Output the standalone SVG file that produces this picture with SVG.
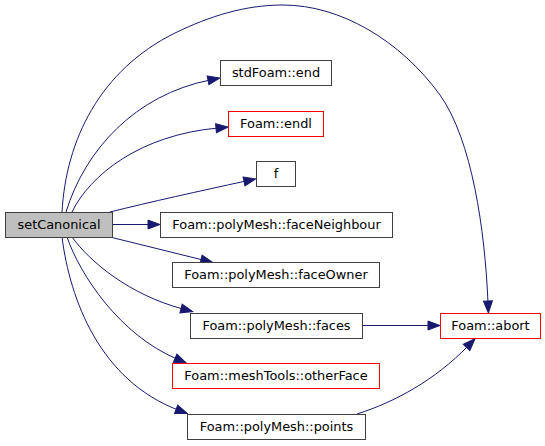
<svg xmlns="http://www.w3.org/2000/svg" width="545" height="446" viewBox="0 0 545 446">
<style>
.box{fill:#ffffff;stroke:#404040;stroke-width:1}
.red{fill:#ffffff;stroke:#ff0000;stroke-width:1}
.cur{fill:#bfbfbf;stroke:#404040;stroke-width:1}
text{font-family:"DejaVu Sans","Liberation Sans",sans-serif;font-size:12.9px;fill:#000000;text-anchor:middle}
.edge{fill:none;stroke:#191970;stroke-width:1;marker-end:url(#arr)}
</style>
<defs>
<marker id="arr" markerUnits="userSpaceOnUse" markerWidth="14" markerHeight="11" viewBox="-1 -1 14 11" refX="2" refY="4.5" orient="auto">
<path d="M0,0 L12,4.5 L0,9 Z" fill="#191970" stroke="#191970" stroke-width="1"/>
</marker>
</defs>
<rect width="545" height="446" fill="#ffffff"/>
<g id="connectors">
<path class="edge" d="M62,212 C66,140 100,70 175,33 C210,16 245,5 283,5 C340,5 400,40 440,95 C472,140 485,230 488,303"/>
<path class="edge" d="M66,212 C85,150 135,95 210,80"/>
<path class="edge" d="M72,212 C90,175 140,135 218,128"/>
<path class="edge" d="M110,212 C150,202 200,191 246,181"/>
<path class="edge" d="M112,224.5 L150,224.5"/>
<path class="edge" d="M110,237 L203,260"/>
<path class="edge" d="M72,237 C90,262 130,295 183,309"/>
<path class="edge" d="M67,237 C80,275 120,335 177,359"/>
<path class="edge" d="M62,237 C70,300 100,380 178,410"/>
<path class="edge" d="M362,325.5 L430,325.5"/>
<path class="edge" d="M357,414 C395,402 435,380 468,346"/>
</g>
<g id="setCanonical"><rect class="cur" x="5.5" y="212.5" width="107" height="25"/><text x="59" y="229">setCanonical</text></g>
<g id="stdFoam_end"><rect class="box" x="220.5" y="60.5" width="111" height="25"/><text x="276" y="77">stdFoam::end</text></g>
<g id="Foam_endl"><rect class="red" x="228.5" y="111.5" width="95" height="25"/><text x="276" y="128">Foam::endl</text></g>
<g id="f"><rect class="box" x="256.5" y="161.5" width="39" height="25"/><text x="276" y="178">f</text></g>
<g id="faceNeighbour"><rect class="box" x="160.5" y="212.5" width="232" height="25"/><text x="276.5" y="229">Foam::polyMesh::faceNeighbour</text></g>
<g id="faceOwner"><rect class="box" x="172.5" y="262.5" width="207" height="25"/><text x="276" y="279">Foam::polyMesh::faceOwner</text></g>
<g id="faces"><rect class="box" x="190.5" y="313.5" width="172" height="25"/><text x="276.5" y="330">Foam::polyMesh::faces</text></g>
<g id="otherFace"><rect class="red" x="172.5" y="363.5" width="207" height="25"/><text x="276" y="380">Foam::meshTools::otherFace</text></g>
<g id="points"><rect class="box" x="187.5" y="414.5" width="178" height="25"/><text x="276.5" y="431">Foam::polyMesh::points</text></g>
<g id="Foam_abort"><rect class="red" x="440.5" y="313.5" width="100" height="25"/><text x="490.5" y="330">Foam::abort</text></g>
</svg>
